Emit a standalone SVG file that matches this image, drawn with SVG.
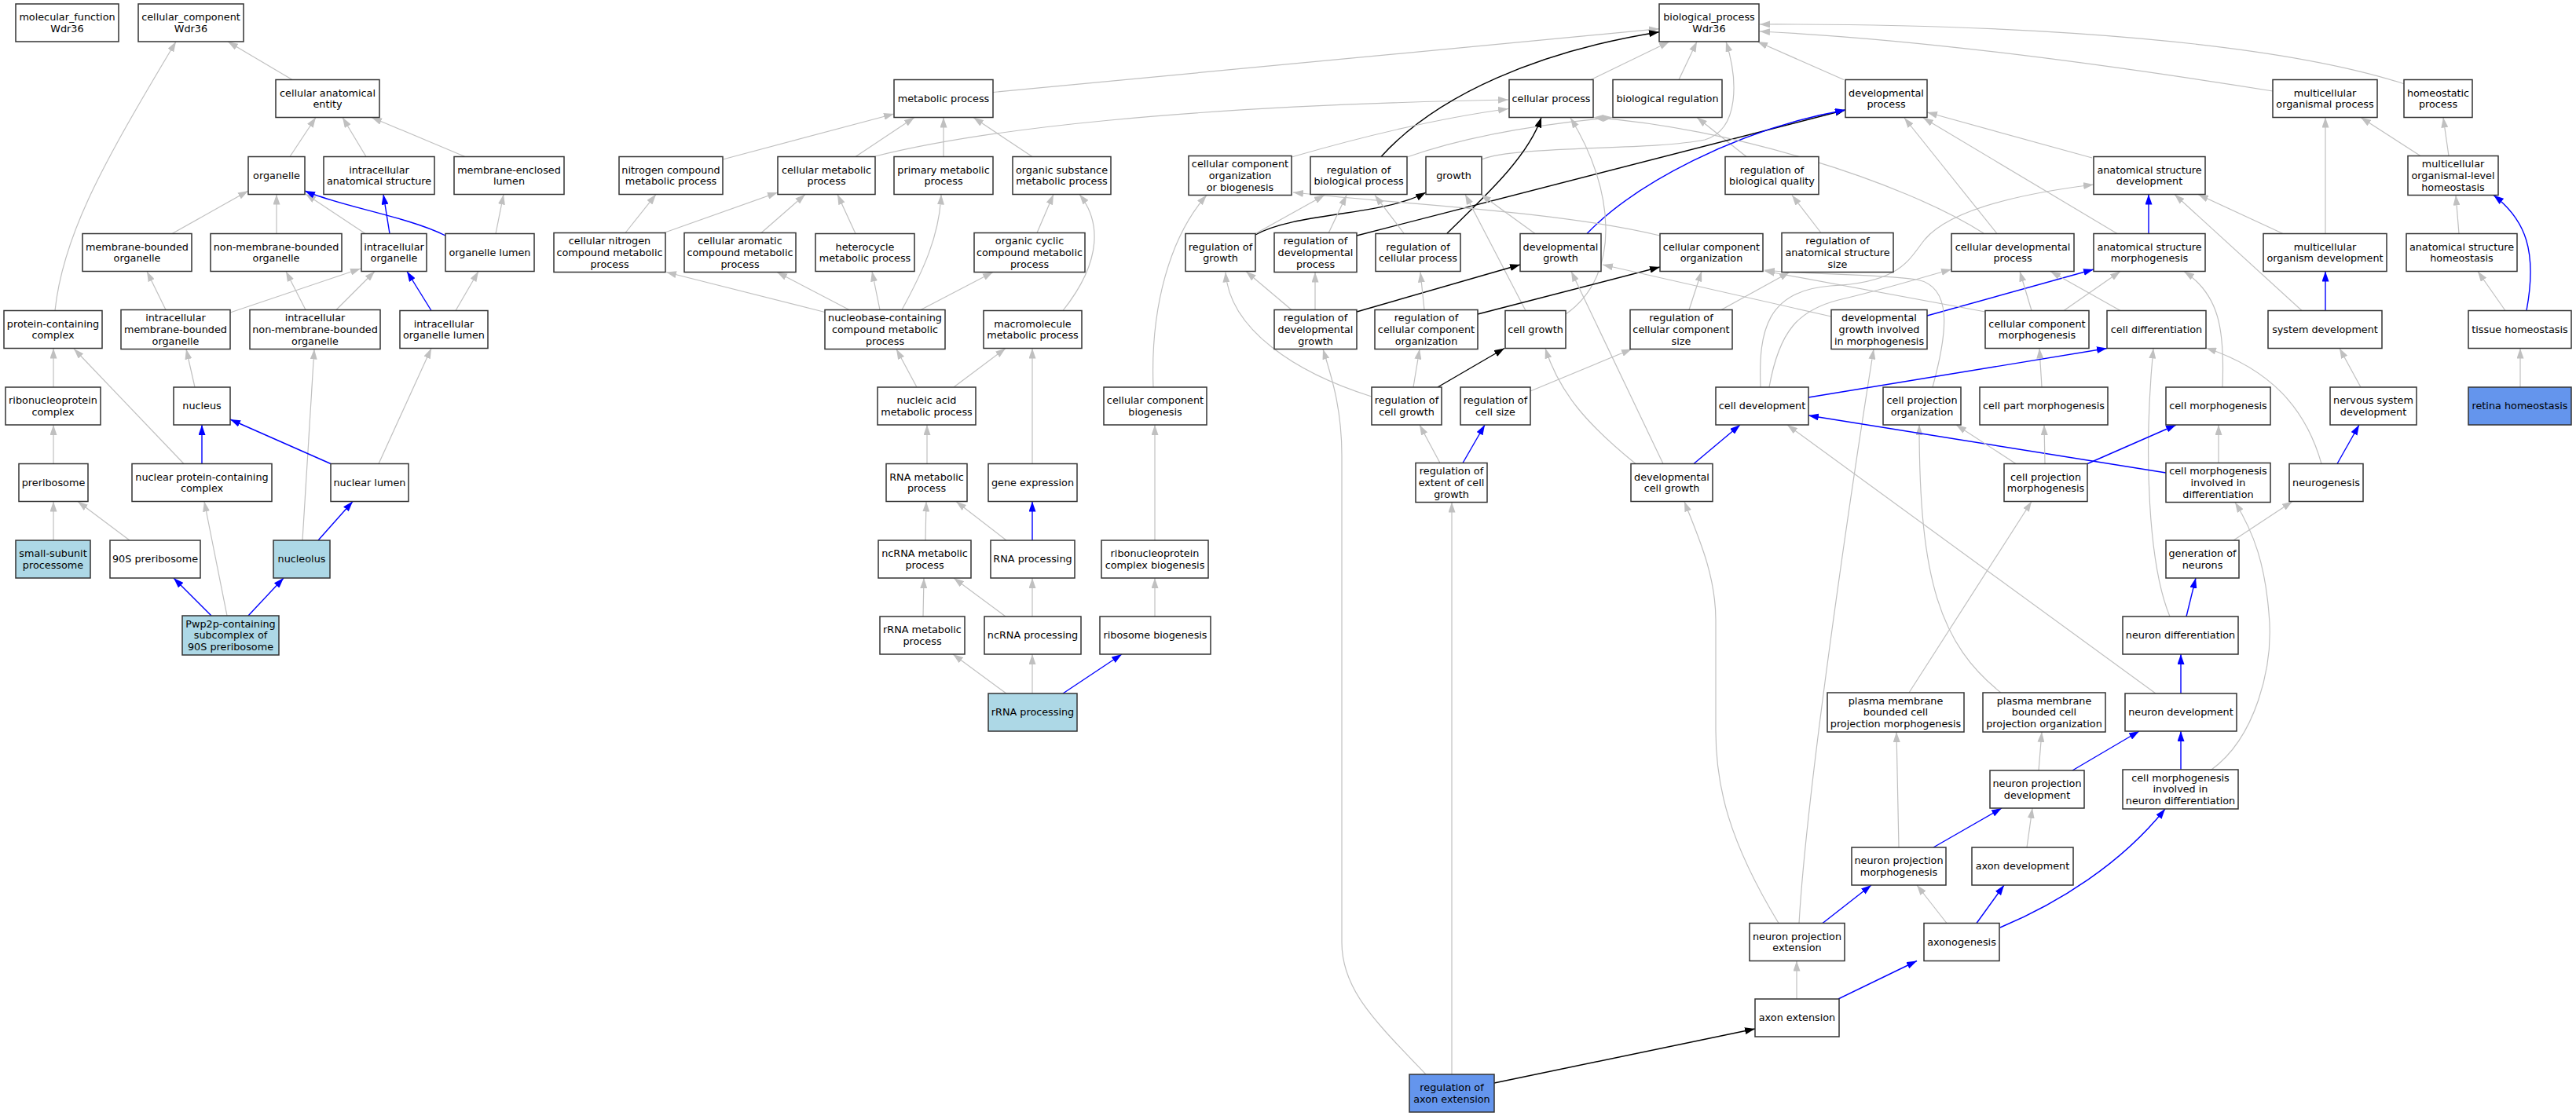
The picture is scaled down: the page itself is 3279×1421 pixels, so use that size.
<svg xmlns="http://www.w3.org/2000/svg" width="3279" height="1421" viewBox="0 0 3279 1421">
<style>
.n rect{fill:#ffffff;stroke:#333333;stroke-width:1.5}
.lb rect{fill:#add8e6}
.cb rect{fill:#6495ed}
text{font-family:"DejaVu Sans","Liberation Sans",sans-serif;font-size:12.8px;text-anchor:middle;fill:#000000}
#edges path{fill:none}
.g{stroke:#c0c0c0;stroke-width:1.2;marker-end:url(#ag)}
.b{stroke:#0000ff;stroke-width:1.4;marker-end:url(#ab)}
.k{stroke:#000000;stroke-width:1.4;marker-end:url(#ak)}
</style>
<defs>
<marker id="ag" viewBox="0 0 13 9" refX="13" refY="4.5" markerWidth="13" markerHeight="9" markerUnits="userSpaceOnUse" orient="auto"><path d="M0,0L13,4.5L0,9z" fill="#c0c0c0"/></marker>
<marker id="ab" viewBox="0 0 13 9" refX="13" refY="4.5" markerWidth="13" markerHeight="9" markerUnits="userSpaceOnUse" orient="auto"><path d="M0,0L13,4.5L0,9z" fill="#0000ff"/></marker>
<marker id="ak" viewBox="0 0 13 9" refX="13" refY="4.5" markerWidth="13" markerHeight="9" markerUnits="userSpaceOnUse" orient="auto"><path d="M0,0L13,4.5L0,9z" fill="#000000"/></marker>
</defs>
<rect x="0" y="0" width="3279" height="1421" fill="#ffffff"/>
<g id="edges">
<path class="g" d="M372,101.5 L290,53"/>
<path class="g" d="M70,395.5 C80,300 130,210 224,53"/>
<path class="g" d="M369,199.5 L402,149.5"/>
<path class="g" d="M466,199.5 L436,149.5"/>
<path class="g" d="M592,199.5 L473,149.5"/>
<path class="g" d="M219,297.5 L316,243"/>
<path class="g" d="M352,297.5 L352,247.5"/>
<path class="g" d="M465,297.5 L389,247"/>
<path class="b" d="M567,300 C520,276 430,262 388,243"/>
<path class="b" d="M496,297.5 L488,247.5"/>
<path class="g" d="M631,297.5 L641,247.5"/>
<path class="g" d="M211,394.5 L187,345.5"/>
<path class="g" d="M293,398 L459,342"/>
<path class="g" d="M389,394.5 L364,345.5"/>
<path class="g" d="M428,394.5 L477,345.5"/>
<path class="b" d="M549,395.5 L518,345.5"/>
<path class="g" d="M580,395.5 L609,345.5"/>
<path class="g" d="M68,493 L68,443.5"/>
<path class="g" d="M234,590.5 L94,444"/>
<path class="g" d="M248,493 L237,444.5"/>
<path class="g" d="M385,688 L400,444.5"/>
<path class="g" d="M482,590.5 L549,443.5"/>
<path class="g" d="M68,590.5 L68,541"/>
<path class="b" d="M257,590.5 L257,541"/>
<path class="b" d="M421,590.5 L293,534"/>
<path class="g" d="M68,688 L68,638.5"/>
<path class="g" d="M165,688 L99,638.5"/>
<path class="b" d="M405,688 L449,638.5"/>
<path class="b" d="M269,784 L221,736"/>
<path class="g" d="M289,784 L260,638.5"/>
<path class="b" d="M316,784 L361,736"/>
<path class="g" d="M1264,117.5 L2112,36.7"/>
<path class="g" d="M1114,199 C1250,165 1500,135 1920,127"/>
<path class="g" d="M920,203 L1138,145"/>
<path class="g" d="M1089,199.5 L1164,149.5"/>
<path class="g" d="M1201,199.5 L1201,149.5"/>
<path class="g" d="M1314,199.5 L1239,149.5"/>
<path class="g" d="M796,296.5 L835,247.5"/>
<path class="g" d="M845,296.5 L990,245"/>
<path class="g" d="M969,296.5 L1025,247.5"/>
<path class="g" d="M1089,297.5 L1066,247.5"/>
<path class="g" d="M1320,296.5 L1341,247.5"/>
<path class="g" d="M1050,397.5 L848,346.5"/>
<path class="g" d="M1081,394.5 L989,346.5"/>
<path class="g" d="M1120,394.5 L1110,345.5"/>
<path class="g" d="M1148,394.5 C1175,345 1196,300 1198,247.5"/>
<path class="g" d="M1172,394.5 L1264,346.5"/>
<path class="g" d="M1353,395.5 C1405,330 1400,280 1374,247.5"/>
<path class="g" d="M1167,493 L1141,444.5"/>
<path class="g" d="M1214,493 L1280,443.5"/>
<path class="g" d="M1180,590.5 L1180,541"/>
<path class="g" d="M1314,590.5 L1314,443.5"/>
<path class="g" d="M1178,688 L1179,638.5"/>
<path class="g" d="M1281,688 L1217,638.5"/>
<path class="b" d="M1314,688 L1314,638.5"/>
<path class="g" d="M1175,785 L1176,736"/>
<path class="g" d="M1280,785 L1214,736"/>
<path class="g" d="M1314,785 L1314,736"/>
<path class="g" d="M1470,785 L1470,736"/>
<path class="g" d="M1470,688 L1470,541"/>
<path class="g" d="M1468,493 C1464,390 1490,300 1536,248.5"/>
<path class="g" d="M1281,883 L1213,833"/>
<path class="g" d="M1314,883 L1314,833"/>
<path class="b" d="M1353,883 L1428,833"/>
<path class="g" d="M2025,101.5 L2125,53"/>
<path class="g" d="M2137,101.5 L2160,53"/>
<path class="g" d="M2347,101.5 L2237,53"/>
<path class="g" d="M2893,116 C2700,85 2450,50 2240,40"/>
<path class="g" d="M3060,106.7 C2900,55 2600,30 2240,31"/>
<path class="g" d="M1886,203 C1930,185 2100,192 2170,178 C2215,165 2212,100 2197,53"/>
<path class="k" d="M1758,199.5 C1830,120 1960,65 2112,40.7"/>
<path class="g" d="M1791,200 C1870,172 1960,158 2053,149.5"/>
<path class="g" d="M2223,199.5 L2160,149.5"/>
<path class="g" d="M1644,200 C1720,178 1820,152 1920,138.5"/>
<path class="k" d="M1598,299 C1650,270 1760,275 1815,245"/>
<path class="g" d="M1598,297.5 L1686,248.5"/>
<path class="g" d="M1691,297 L1714,248.5"/>
<path class="k" d="M1727,300 L2349,140"/>
<path class="g" d="M1787,297 L1750,248.5"/>
<path class="k" d="M1842,297 C1890,250 1945,200 1962,149.5"/>
<path class="g" d="M1954,297.5 L1885,247.5"/>
<path class="b" d="M2020,297.5 C2080,235 2210,165 2349,140"/>
<path class="g" d="M2113,300 C1980,268 1780,260 1646,245"/>
<path class="g" d="M2525,297 C2420,230 2200,162 2028,149.5"/>
<path class="g" d="M1993,400 C2065,350 2055,240 1999,150"/>
<path class="g" d="M1942,395.5 L1865,247.5"/>
<path class="g" d="M2318,296.5 L2281,248.5"/>
<path class="g" d="M1644,394.5 L1586,345.5"/>
<path class="g" d="M1674,394.5 L1674,346.5"/>
<path class="k" d="M1727,397 L1935,337"/>
<path class="g" d="M1813,394.5 L1808,346.5"/>
<path class="k" d="M1881,400 L2113,340"/>
<path class="g" d="M2150,394.5 L2166,345.5"/>
<path class="g" d="M2191,394.5 L2278,346.5"/>
<path class="g" d="M2331,403 L2040,337"/>
<path class="b" d="M2453,402 L2665,343"/>
<path class="g" d="M2527,397 L2246,345"/>
<path class="g" d="M2460,493 C2480,420 2485,365 2440,356 C2380,348 2300,350 2246,344"/>
<path class="k" d="M1830,493 L1915,443.5"/>
<path class="g" d="M1746,505 C1650,475 1565,420 1560,346.5"/>
<path class="g" d="M1799,493 L1807,444.5"/>
<path class="g" d="M1948,498 L2077,444.5"/>
<path class="g" d="M2082,590.5 C2020,540 1985,500 1967,443.5"/>
<path class="g" d="M2117,590.5 L2000,345.5"/>
<path class="b" d="M2156,590.5 L2215,541"/>
<path class="g" d="M1833,589.5 L1807,541"/>
<path class="b" d="M1862,589.5 L1890,541"/>
<path class="k" d="M1902,1379 L2234,1310"/>
<path class="g" d="M1848,1368 L1848,639.5"/>
<path class="g" d="M1815,1368 C1750,1300 1708,1260 1708,1200 L1708,580 C1708,520 1695,480 1684,444.5"/>
<path class="g" d="M2287,1272 L2287,1223.5"/>
<path class="b" d="M2340,1272 L2440,1223.5"/>
<path class="b" d="M2320,1175.5 L2382,1127"/>
<path class="g" d="M2264,1175.5 C2200,1070 2184,1000 2184,930 L2184,790 C2184,730 2160,680 2144,638.5"/>
<path class="g" d="M2290,1175.5 C2300,1000 2360,600 2385,444.5"/>
<path class="g" d="M2478,1175.5 L2440,1127"/>
<path class="b" d="M2516,1175.5 L2551,1127"/>
<path class="b" d="M2546,1181 C2620,1150 2700,1100 2756,1030"/>
<path class="b" d="M2461,1079 L2548,1029"/>
<path class="g" d="M2417,1079 L2414,932"/>
<path class="g" d="M2580,1079 L2587,1029"/>
<path class="b" d="M2638,981 L2723,931"/>
<path class="g" d="M2595,981 L2599,932"/>
<path class="b" d="M2776,980 L2776,931"/>
<path class="g" d="M2815,980 C2870,940 2895,850 2888,780 C2883,720 2870,680 2845,639.5"/>
<path class="g" d="M2430,882 L2586,638.5"/>
<path class="g" d="M2547,882 C2470,820 2443,740 2443,541"/>
<path class="b" d="M2776,883 L2776,833"/>
<path class="g" d="M2744,883 L2275,541"/>
<path class="b" d="M2783,785 L2795,736"/>
<path class="g" d="M2762,785 C2735,720 2728,580 2741,443.5"/>
<path class="g" d="M2843,688 L2918,638.5"/>
<path class="b" d="M2975,590.5 L3003,541"/>
<path class="g" d="M2955,590.5 C2935,520 2890,470 2808,443"/>
<path class="g" d="M2824,589.5 L2824,541"/>
<path class="b" d="M2757,602 L2302,529"/>
<path class="b" d="M2657,590.5 L2770,541"/>
<path class="g" d="M2603,590.5 L2602,541"/>
<path class="g" d="M2566,590.5 L2490,541"/>
<path class="g" d="M2829,493 C2832,420 2825,375 2780,345.5"/>
<path class="g" d="M2599,493 L2596,443.5"/>
<path class="b" d="M2302,506 L2682,443.5"/>
<path class="g" d="M2241,493 C2238,420 2250,370 2330,364 C2420,360 2430,330 2450,305 C2480,270 2560,248 2665,235"/>
<path class="g" d="M2252,493 C2265,420 2290,395 2340,382 C2400,368 2440,355 2484,343"/>
<path class="g" d="M2586,395.5 L2571,345.5"/>
<path class="g" d="M2627,395.5 L2699,345.5"/>
<path class="g" d="M2699,395.5 L2610,345.5"/>
<path class="b" d="M2735,297.5 L2735,247.5"/>
<path class="g" d="M2542,297.5 L2424,150"/>
<path class="g" d="M2695,297.5 L2448,150"/>
<path class="g" d="M2663,201 L2453,143"/>
<path class="g" d="M2960,297.5 L2960,149.5"/>
<path class="g" d="M2906,297.5 L2798,247.5"/>
<path class="g" d="M3081,198.5 L3005,149.5"/>
<path class="g" d="M3117,198.5 L3110,149.5"/>
<path class="g" d="M3130,297.5 L3126,248.5"/>
<path class="g" d="M2930,395.5 L2768,247.5"/>
<path class="b" d="M2960,395.5 L2960,345.5"/>
<path class="g" d="M3189,395.5 L3154,345.5"/>
<path class="b" d="M3216,395.5 C3230,320 3215,280 3174,248.5"/>
<path class="g" d="M3005,493 L2978,443.5"/>
<path class="g" d="M3208,493 L3208,443.5"/>
</g>
<g id="mf" class="n"><rect x="20" y="5" width="131" height="48"/><text x="85.5" y="26.05">molecular_function</text><text x="85.5" y="40.75">Wdr36</text></g>
<g id="cc" class="n"><rect x="176" y="5" width="134" height="48"/><text x="243" y="26.05">cellular_component</text><text x="243" y="40.75">Wdr36</text></g>
<g id="bp" class="n"><rect x="2112" y="5" width="127" height="48"/><text x="2175.5" y="26.05">biological_process</text><text x="2175.5" y="40.75">Wdr36</text></g>
<g id="cae" class="n"><rect x="351" y="101.5" width="132" height="48"/><text x="417" y="122.55">cellular anatomical</text><text x="417" y="137.25">entity</text></g>
<g id="mp" class="n"><rect x="1138" y="101.5" width="126" height="48"/><text x="1201" y="129.9">metabolic process</text></g>
<g id="cp" class="n"><rect x="1921" y="101.5" width="107" height="48"/><text x="1974.5" y="129.9">cellular process</text></g>
<g id="breg" class="n"><rect x="2053" y="101.5" width="139" height="48"/><text x="2122.5" y="129.9">biological regulation</text></g>
<g id="dp" class="n"><rect x="2349" y="101.5" width="104" height="48"/><text x="2401" y="122.55">developmental</text><text x="2401" y="137.25">process</text></g>
<g id="mop" class="n"><rect x="2893" y="101.5" width="133" height="48"/><text x="2959.5" y="122.55">multicellular</text><text x="2959.5" y="137.25">organismal process</text></g>
<g id="hp" class="n"><rect x="3060" y="101.5" width="87" height="48"/><text x="3103.5" y="122.55">homeostatic</text><text x="3103.5" y="137.25">process</text></g>
<g id="org" class="n"><rect x="316" y="199.5" width="72" height="48"/><text x="352" y="227.9">organelle</text></g>
<g id="ias" class="n"><rect x="412" y="199.5" width="141" height="48"/><text x="482.5" y="220.55">intracellular</text><text x="482.5" y="235.25">anatomical structure</text></g>
<g id="mel" class="n"><rect x="578" y="199.5" width="140" height="48"/><text x="648" y="220.55">membrane-enclosed</text><text x="648" y="235.25">lumen</text></g>
<g id="ncmp" class="n"><rect x="788" y="199.5" width="132" height="48"/><text x="854" y="220.55">nitrogen compound</text><text x="854" y="235.25">metabolic process</text></g>
<g id="cmp" class="n"><rect x="990" y="199.5" width="124" height="48"/><text x="1052" y="220.55">cellular metabolic</text><text x="1052" y="235.25">process</text></g>
<g id="pmp" class="n"><rect x="1138" y="199.5" width="126" height="48"/><text x="1201" y="220.55">primary metabolic</text><text x="1201" y="235.25">process</text></g>
<g id="osmp" class="n"><rect x="1289" y="199.5" width="125" height="48"/><text x="1351.5" y="220.55">organic substance</text><text x="1351.5" y="235.25">metabolic process</text></g>
<g id="ccob" class="n"><rect x="1513" y="198.5" width="131" height="50"/><text x="1578.5" y="213.2">cellular component</text><text x="1578.5" y="227.9">organization</text><text x="1578.5" y="242.6">or biogenesis</text></g>
<g id="rbp" class="n"><rect x="1668" y="199.5" width="123" height="48"/><text x="1729.5" y="220.55">regulation of</text><text x="1729.5" y="235.25">biological process</text></g>
<g id="growth" class="n"><rect x="1815" y="199.5" width="71" height="48"/><text x="1850.5" y="227.9">growth</text></g>
<g id="rbq" class="n"><rect x="2196" y="199.5" width="119" height="48"/><text x="2255.5" y="220.55">regulation of</text><text x="2255.5" y="235.25">biological quality</text></g>
<g id="asd" class="n"><rect x="2665" y="199.5" width="142" height="48"/><text x="2736" y="220.55">anatomical structure</text><text x="2736" y="235.25">development</text></g>
<g id="molh" class="n"><rect x="3065" y="198.5" width="115" height="50"/><text x="3122.5" y="213.2">multicellular</text><text x="3122.5" y="227.9">organismal-level</text><text x="3122.5" y="242.6">homeostasis</text></g>
<g id="mbo" class="n"><rect x="105" y="297.5" width="139" height="48"/><text x="174.5" y="318.55">membrane-bounded</text><text x="174.5" y="333.25">organelle</text></g>
<g id="nmbo" class="n"><rect x="268" y="297.5" width="167" height="48"/><text x="351.5" y="318.55">non-membrane-bounded</text><text x="351.5" y="333.25">organelle</text></g>
<g id="io" class="n"><rect x="460" y="297.5" width="83" height="48"/><text x="501.5" y="318.55">intracellular</text><text x="501.5" y="333.25">organelle</text></g>
<g id="ol" class="n"><rect x="567" y="297.5" width="113" height="48"/><text x="623.5" y="325.9">organelle lumen</text></g>
<g id="cncmp" class="n"><rect x="705" y="296.5" width="142" height="50"/><text x="776" y="311.2">cellular nitrogen</text><text x="776" y="325.9">compound metabolic</text><text x="776" y="340.6">process</text></g>
<g id="cacmp" class="n"><rect x="871" y="296.5" width="142" height="50"/><text x="942" y="311.2">cellular aromatic</text><text x="942" y="325.9">compound metabolic</text><text x="942" y="340.6">process</text></g>
<g id="hmp" class="n"><rect x="1038" y="297.5" width="126" height="48"/><text x="1101" y="318.55">heterocycle</text><text x="1101" y="333.25">metabolic process</text></g>
<g id="occmp" class="n"><rect x="1240" y="296.5" width="141" height="50"/><text x="1310.5" y="311.2">organic cyclic</text><text x="1310.5" y="325.9">compound metabolic</text><text x="1310.5" y="340.6">process</text></g>
<g id="rog" class="n"><rect x="1509" y="297.5" width="89" height="48"/><text x="1553.5" y="318.55">regulation of</text><text x="1553.5" y="333.25">growth</text></g>
<g id="rdp" class="n"><rect x="1622" y="296.5" width="105" height="50"/><text x="1674.5" y="311.2">regulation of</text><text x="1674.5" y="325.9">developmental</text><text x="1674.5" y="340.6">process</text></g>
<g id="rcp" class="n"><rect x="1751" y="297.5" width="108" height="48"/><text x="1805" y="318.55">regulation of</text><text x="1805" y="333.25">cellular process</text></g>
<g id="dg" class="n"><rect x="1935" y="297.5" width="103" height="48"/><text x="1986.5" y="318.55">developmental</text><text x="1986.5" y="333.25">growth</text></g>
<g id="cco" class="n"><rect x="2113" y="297.5" width="131" height="48"/><text x="2178.5" y="318.55">cellular component</text><text x="2178.5" y="333.25">organization</text></g>
<g id="rass" class="n"><rect x="2268" y="296.5" width="142" height="50"/><text x="2339" y="311.2">regulation of</text><text x="2339" y="325.9">anatomical structure</text><text x="2339" y="340.6">size</text></g>
<g id="cdp" class="n"><rect x="2484" y="297.5" width="156" height="48"/><text x="2562" y="318.55">cellular developmental</text><text x="2562" y="333.25">process</text></g>
<g id="asm" class="n"><rect x="2665" y="297.5" width="142" height="48"/><text x="2736" y="318.55">anatomical structure</text><text x="2736" y="333.25">morphogenesis</text></g>
<g id="mod" class="n"><rect x="2881" y="297.5" width="157" height="48"/><text x="2959.5" y="318.55">multicellular</text><text x="2959.5" y="333.25">organism development</text></g>
<g id="ash" class="n"><rect x="3063" y="297.5" width="141" height="48"/><text x="3133.5" y="318.55">anatomical structure</text><text x="3133.5" y="333.25">homeostasis</text></g>
<g id="pcc" class="n"><rect x="5" y="395.5" width="125" height="48"/><text x="67.5" y="416.55">protein-containing</text><text x="67.5" y="431.25">complex</text></g>
<g id="imbo" class="n"><rect x="154" y="394.5" width="139" height="50"/><text x="223.5" y="409.2">intracellular</text><text x="223.5" y="423.9">membrane-bounded</text><text x="223.5" y="438.6">organelle</text></g>
<g id="inmbo" class="n"><rect x="318" y="394.5" width="166" height="50"/><text x="401" y="409.2">intracellular</text><text x="401" y="423.9">non-membrane-bounded</text><text x="401" y="438.6">organelle</text></g>
<g id="iol" class="n"><rect x="509" y="395.5" width="112" height="48"/><text x="565" y="416.55">intracellular</text><text x="565" y="431.25">organelle lumen</text></g>
<g id="nbcmp" class="n"><rect x="1050" y="394.5" width="153" height="50"/><text x="1126.5" y="409.2">nucleobase-containing</text><text x="1126.5" y="423.9">compound metabolic</text><text x="1126.5" y="438.6">process</text></g>
<g id="mmp" class="n"><rect x="1252" y="395.5" width="125" height="48"/><text x="1314.5" y="416.55">macromolecule</text><text x="1314.5" y="431.25">metabolic process</text></g>
<g id="rdg" class="n"><rect x="1622" y="394.5" width="105" height="50"/><text x="1674.5" y="409.2">regulation of</text><text x="1674.5" y="423.9">developmental</text><text x="1674.5" y="438.6">growth</text></g>
<g id="rcco" class="n"><rect x="1750" y="394.5" width="131" height="50"/><text x="1815.5" y="409.2">regulation of</text><text x="1815.5" y="423.9">cellular component</text><text x="1815.5" y="438.6">organization</text></g>
<g id="cg" class="n"><rect x="1916" y="395.5" width="77" height="48"/><text x="1954.5" y="423.9">cell growth</text></g>
<g id="rccs" class="n"><rect x="2075" y="394.5" width="130" height="50"/><text x="2140" y="409.2">regulation of</text><text x="2140" y="423.9">cellular component</text><text x="2140" y="438.6">size</text></g>
<g id="dgim" class="n"><rect x="2331" y="394.5" width="122" height="50"/><text x="2392" y="409.2">developmental</text><text x="2392" y="423.9">growth involved</text><text x="2392" y="438.6">in morphogenesis</text></g>
<g id="ccm" class="n"><rect x="2527" y="395.5" width="132" height="48"/><text x="2593" y="416.55">cellular component</text><text x="2593" y="431.25">morphogenesis</text></g>
<g id="cd" class="n"><rect x="2682" y="395.5" width="126" height="48"/><text x="2745" y="423.9">cell differentiation</text></g>
<g id="sd" class="n"><rect x="2887" y="395.5" width="145" height="48"/><text x="2959.5" y="423.9">system development</text></g>
<g id="th" class="n"><rect x="3142" y="395.5" width="131" height="48"/><text x="3207.5" y="423.9">tissue homeostasis</text></g>
<g id="rnpc" class="n"><rect x="7" y="493" width="121" height="48"/><text x="67.5" y="514.05">ribonucleoprotein</text><text x="67.5" y="528.75">complex</text></g>
<g id="nucleus" class="n"><rect x="221" y="493" width="72" height="48"/><text x="257" y="521.4">nucleus</text></g>
<g id="nam" class="n"><rect x="1117" y="493" width="125" height="48"/><text x="1179.5" y="514.05">nucleic acid</text><text x="1179.5" y="528.75">metabolic process</text></g>
<g id="ccb" class="n"><rect x="1405" y="493" width="131" height="48"/><text x="1470.5" y="514.05">cellular component</text><text x="1470.5" y="528.75">biogenesis</text></g>
<g id="rcg" class="n"><rect x="1746" y="493" width="89" height="48"/><text x="1790.5" y="514.05">regulation of</text><text x="1790.5" y="528.75">cell growth</text></g>
<g id="rcs" class="n"><rect x="1859" y="493" width="89" height="48"/><text x="1903.5" y="514.05">regulation of</text><text x="1903.5" y="528.75">cell size</text></g>
<g id="cdev" class="n"><rect x="2184" y="493" width="118" height="48"/><text x="2243" y="521.4">cell development</text></g>
<g id="cpo" class="n"><rect x="2397" y="493" width="99" height="48"/><text x="2446.5" y="514.05">cell projection</text><text x="2446.5" y="528.75">organization</text></g>
<g id="cpartm" class="n"><rect x="2520" y="493" width="163" height="48"/><text x="2601.5" y="521.4">cell part morphogenesis</text></g>
<g id="cm" class="n"><rect x="2757" y="493" width="133" height="48"/><text x="2823.5" y="521.4">cell morphogenesis</text></g>
<g id="nsd" class="n"><rect x="2966" y="493" width="110" height="48"/><text x="3021" y="514.05">nervous system</text><text x="3021" y="528.75">development</text></g>
<g id="rh" class="n cb"><rect x="3142" y="493" width="131" height="48"/><text x="3207.5" y="521.4">retina homeostasis</text></g>
<g id="prib" class="n"><rect x="24" y="590.5" width="88" height="48"/><text x="68" y="618.9">preribosome</text></g>
<g id="npcc" class="n"><rect x="168" y="590.5" width="178" height="48"/><text x="257" y="611.55">nuclear protein-containing</text><text x="257" y="626.25">complex</text></g>
<g id="nl" class="n"><rect x="421" y="590.5" width="99" height="48"/><text x="470.5" y="618.9">nuclear lumen</text></g>
<g id="rnamp" class="n"><rect x="1128" y="590.5" width="103" height="48"/><text x="1179.5" y="611.55">RNA metabolic</text><text x="1179.5" y="626.25">process</text></g>
<g id="ge" class="n"><rect x="1258" y="590.5" width="113" height="48"/><text x="1314.5" y="618.9">gene expression</text></g>
<g id="reocg" class="n"><rect x="1802" y="589.5" width="91" height="50"/><text x="1847.5" y="604.2">regulation of</text><text x="1847.5" y="618.9">extent of cell</text><text x="1847.5" y="633.6">growth</text></g>
<g id="dcg" class="n"><rect x="2076" y="590.5" width="104" height="48"/><text x="2128" y="611.55">developmental</text><text x="2128" y="626.25">cell growth</text></g>
<g id="cprojm" class="n"><rect x="2551" y="590.5" width="106" height="48"/><text x="2604" y="611.55">cell projection</text><text x="2604" y="626.25">morphogenesis</text></g>
<g id="cmid" class="n"><rect x="2757" y="589.5" width="133" height="50"/><text x="2823.5" y="604.2">cell morphogenesis</text><text x="2823.5" y="618.9">involved in</text><text x="2823.5" y="633.6">differentiation</text></g>
<g id="neurog" class="n"><rect x="2914" y="590.5" width="94" height="48"/><text x="2961" y="618.9">neurogenesis</text></g>
<g id="ssp" class="n lb"><rect x="20" y="688" width="95" height="48"/><text x="67.5" y="709.05">small-subunit</text><text x="67.5" y="723.75">processome</text></g>
<g id="p90s" class="n"><rect x="140" y="688" width="115" height="48"/><text x="197.5" y="716.4">90S preribosome</text></g>
<g id="nucleolus" class="n lb"><rect x="348" y="688" width="72" height="48"/><text x="384" y="716.4">nucleolus</text></g>
<g id="ncrnamp" class="n"><rect x="1118" y="688" width="118" height="48"/><text x="1177" y="709.05">ncRNA metabolic</text><text x="1177" y="723.75">process</text></g>
<g id="rnap" class="n"><rect x="1261" y="688" width="107" height="48"/><text x="1314.5" y="716.4">RNA processing</text></g>
<g id="rnpcb" class="n"><rect x="1402" y="688" width="136" height="48"/><text x="1470" y="709.05">ribonucleoprotein</text><text x="1470" y="723.75">complex biogenesis</text></g>
<g id="gon" class="n"><rect x="2757" y="688" width="93" height="48"/><text x="2803.5" y="709.05">generation of</text><text x="2803.5" y="723.75">neurons</text></g>
<g id="pwp2p" class="n lb"><rect x="232" y="784" width="123" height="50"/><text x="293.5" y="798.7">Pwp2p-containing</text><text x="293.5" y="813.4">subcomplex of</text><text x="293.5" y="828.1">90S preribosome</text></g>
<g id="rrnamp" class="n"><rect x="1120" y="785" width="108" height="48"/><text x="1174" y="806.05">rRNA metabolic</text><text x="1174" y="820.75">process</text></g>
<g id="ncrnap" class="n"><rect x="1253" y="785" width="123" height="48"/><text x="1314.5" y="813.4">ncRNA processing</text></g>
<g id="rb" class="n"><rect x="1400" y="785" width="141" height="48"/><text x="1470.5" y="813.4">ribosome biogenesis</text></g>
<g id="nd" class="n"><rect x="2702" y="785" width="147" height="48"/><text x="2775.5" y="813.4">neuron differentiation</text></g>
<g id="rrnap" class="n lb"><rect x="1258" y="883" width="113" height="48"/><text x="1314.5" y="911.4">rRNA processing</text></g>
<g id="pmbcpm" class="n"><rect x="2326" y="882" width="174" height="50"/><text x="2413" y="896.7">plasma membrane</text><text x="2413" y="911.4">bounded cell</text><text x="2413" y="926.1">projection morphogenesis</text></g>
<g id="pmbcpo" class="n"><rect x="2524" y="882" width="156" height="50"/><text x="2602" y="896.7">plasma membrane</text><text x="2602" y="911.4">bounded cell</text><text x="2602" y="926.1">projection organization</text></g>
<g id="ndev" class="n"><rect x="2705" y="883" width="142" height="48"/><text x="2776" y="911.4">neuron development</text></g>
<g id="npd" class="n"><rect x="2533" y="981" width="120" height="48"/><text x="2593" y="1002.05">neuron projection</text><text x="2593" y="1016.75">development</text></g>
<g id="cmind" class="n"><rect x="2702" y="980" width="147" height="50"/><text x="2775.5" y="994.7">cell morphogenesis</text><text x="2775.5" y="1009.4">involved in</text><text x="2775.5" y="1024.1">neuron differentiation</text></g>
<g id="npm" class="n"><rect x="2357" y="1079" width="120" height="48"/><text x="2417" y="1100.05">neuron projection</text><text x="2417" y="1114.75">morphogenesis</text></g>
<g id="ad" class="n"><rect x="2510" y="1079" width="129" height="48"/><text x="2574.5" y="1107.4">axon development</text></g>
<g id="npe" class="n"><rect x="2227" y="1175.5" width="121" height="48"/><text x="2287.5" y="1196.55">neuron projection</text><text x="2287.5" y="1211.25">extension</text></g>
<g id="axg" class="n"><rect x="2449" y="1175.5" width="96" height="48"/><text x="2497" y="1203.9">axonogenesis</text></g>
<g id="ae" class="n"><rect x="2234" y="1272" width="107" height="48"/><text x="2287.5" y="1300.4">axon extension</text></g>
<g id="rae" class="n cb"><rect x="1794" y="1368" width="108" height="48"/><text x="1848" y="1389.05">regulation of</text><text x="1848" y="1403.75">axon extension</text></g>
</svg>
